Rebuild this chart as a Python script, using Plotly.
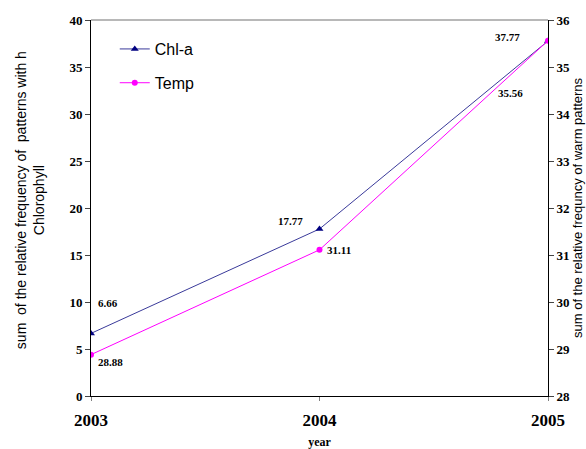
import plotly.graph_objects as go

years = [2003, 2004, 2005]
chla = [6.66, 17.77, 37.77]
temp = [28.88, 31.11, 35.56]
chla_labels = ["6.66", "17.77", "37.77"]
temp_labels = ["28.88", "31.11", "35.56"]

fig = go.Figure()
fig.add_trace(go.Scatter(x=years, y=chla, name="Chl-a", mode="lines+markers",
                         legendgroup="a",
                         line=dict(color="#3a3a9a", width=1),
                         marker=dict(symbol="triangle-up", size=7, color="#000080"),
                         yaxis="y"))
fig.add_trace(go.Scatter(x=years, y=temp, name="Temp", mode="lines+markers",
                         legendgroup="b",
                         line=dict(color="#ff00ff", width=1),
                         marker=dict(symbol="circle", size=6, color="#ff00ff"),
                         yaxis="y2"))

lab_font = dict(family="Liberation Serif", size=11, color="black")
# (xshift, yshift) in pixels relative to the data point
chla_off = [(17, 30), (-29, 8), (-41, 4)]
temp_off = [(19, -7), (19, 0), (-38, -52)]
for i in range(3):
    fig.add_annotation(x=years[i], y=chla[i], xref="x", yref="y", text="<b>%s</b>" % chla_labels[i],
                       showarrow=False, xshift=chla_off[i][0], yshift=chla_off[i][1],
                       font=lab_font)
    fig.add_annotation(x=years[i], y=temp[i], xref="x", yref="y2", text="<b>%s</b>" % temp_labels[i],
                       showarrow=False, xshift=temp_off[i][0], yshift=temp_off[i][1],
                       font=lab_font)

fig.add_annotation(x=-0.132, y=0.52, xref="paper", yref="paper", textangle=-90,
                   xanchor="center", yanchor="middle",
                   text="sum  of the relative frequency of  patterns with h<br>Chlorophyll",
                   showarrow=False, font=dict(family="Liberation Sans", size=14, color="black"),
                   align="center")
fig.add_annotation(x=1.0635, y=0.5, xref="paper", yref="paper", textangle=-90,
                   xanchor="center", yanchor="middle",
                   text="sum of the relative frequncy of warm patterns",
                   showarrow=False, font=dict(family="Liberation Sans", size=13, color="black"))

fig.update_layout(
    width=586, height=449,
    margin=dict(l=91, r=38, t=20, b=53, autoexpand=False),
    paper_bgcolor="white", plot_bgcolor="white",
    showlegend=True,
    legend=dict(x=0.052, y=0.968, xanchor="left", yanchor="top", bgcolor="rgba(0,0,0,0)",
                font=dict(family="Liberation Sans", size=16, color="black"),
                tracegroupgap=10),
    xaxis=dict(range=[2003, 2005], tickvals=years, ticktext=[str(y) for y in years],
               showgrid=False, zeroline=False, showline=True, linecolor="black", linewidth=1,
               ticks="outside", ticklen=4, tickcolor="gray", ticklabelstandoff=5,
               automargin=False,
               tickfont=dict(family="Liberation Serif", size=17, color="black", weight="bold"),
               title=dict(text="<b>year</b>", font=dict(family="Liberation Serif", size=12, color="black"),
                          standoff=15),
               mirror=False),
    yaxis=dict(range=[0, 40], dtick=5, showgrid=False, zeroline=False, showline=True,
               linecolor="black", linewidth=1, ticks="outside", ticklen=5, automargin=False,
               tickfont=dict(family="Liberation Serif", size=13, color="black", weight="bold")),
    yaxis2=dict(range=[28, 36], dtick=1, overlaying="y", side="right", showgrid=False,
                zeroline=False, showline=True, linecolor="black", linewidth=1,
                ticks="outside", ticklen=5, automargin=False,
                tickfont=dict(family="Liberation Serif", size=13, color="black", weight="bold")),
    shapes=[dict(type="line", xref="paper", yref="paper", x0=0, x1=1, y0=1, y1=1,
                 line=dict(color="#a0a0a0", width=1.5))],
)

fig.write_html("out.html", config={"displayModeBar": False},
               post_script="document.body.style.margin='0';document.body.style.overflow='hidden';")
